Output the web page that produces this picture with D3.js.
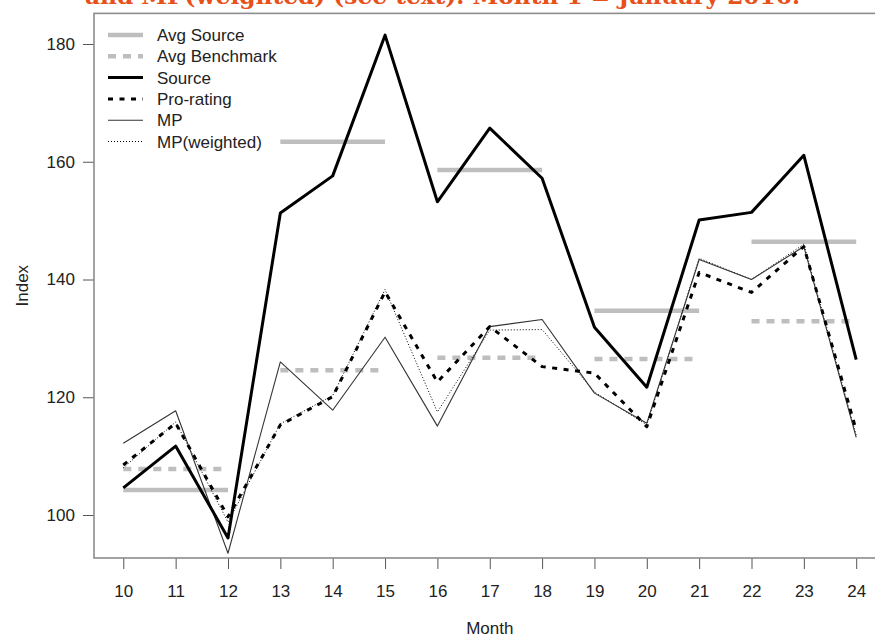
<!DOCTYPE html>
<html>
<head>
<meta charset="utf-8">
<script src="https://cdn.jsdelivr.net/npm/d3@7"></script>
<style>
  html, body { margin: 0; padding: 0; background: #fff; }
  svg { display: block; }
</style>
</head>
<body>
<svg id="chart" width="875" height="639"></svg>
<script>
// ---------- data ----------
const months = [10, 11, 12, 13, 14, 15, 16, 17, 18, 19, 20, 21, 22, 23, 24];
const source    = [104.6, 111.7, 96.1, 151.3, 157.6, 181.5, 153.2, 165.7, 157.2, 131.9, 121.7, 150.1, 151.4, 161.1, 126.4];
const proRating = [108.5, 115.6, 99.7, 115.3, 120.1, 137.9, 122.6, 132.0, 125.2, 124.1, 115.0, 141.2, 137.8, 145.6, 114.4];
const mp        = [112.2, 117.7, 93.5, 126.0, 117.8, 130.2, 115.1, 132.0, 133.2, 120.7, 115.6, 143.4, 140.0, 145.6, 113.2];
const mpWeighted= [108.0, 115.8, 98.8, 115.5, 120.3, 138.3, 117.5, 131.4, 131.5, 120.9, 115.3, 143.6, 140.0, 146.0, 113.6];
// quarterly averages: [startMonth, endMonth, value]
const avgSourceStart = [10, 13, 16, 19, 22];
const avgSourceEnd   = [12, 15, 18, 21, 24];
const avgSource      = [104.25, 163.4, 158.6, 134.7, 146.4];
const avgBenchmark   = [107.8, 124.6, 126.7, 126.5, 132.9];
const yTicks = [100, 120, 140, 160, 180];
const legendLabels = ["Avg Source", "Avg Benchmark", "Source", "Pro-rating", "MP", "MP(weighted)"];
const titleText = "and MP(weighted) (see text). Month 1 = January 2016.";

// ---------- styles ----------
const styles = {
  "Avg Source":    {stroke: "#bebebe", width: 4.5, dash: null},
  "Avg Benchmark": {stroke: "#bebebe", width: 4.5, dash: "8,7"},
  "Source":        {stroke: "#000", width: 3, dash: null},
  "Pro-rating":    {stroke: "#000", width: 3, dash: "5,6.5"},
  "MP":            {stroke: "#333", width: 1.1, dash: null},
  "MP(weighted)":  {stroke: "#000", width: 1, dash: "1,2"}
};

const svg = d3.select("#chart");
const font = "'Liberation Sans', Arial, sans-serif";

const x = d3.scaleLinear().domain([10, 24]).range([123.3, 856.2]);
const y = d3.scaleLinear().domain([100, 180]).range([515, 44]);
const plotLeft = x(9.44), plotRight = x(24.56);
const plotTop = y(185.2), plotBottom = y(92.7);

// title (clipped at top, as in the reference)
svg.append("text")
  .attr("x", 85).attr("y", 4)
  .attr("font-family", "'DejaVu Serif', 'Liberation Serif', serif")
  .attr("font-weight", "bold")
  .attr("font-size", 22)
  .attr("fill", "#e8501a")
  .attr("textLength", 715)
  .attr("lengthAdjust", "spacingAndGlyphs")
  .text(titleText);

// axes
const xAxis = d3.axisBottom(x).tickValues(months).tickSize(11).tickPadding(16).tickFormat(d3.format("d"));
const gx = svg.append("g").attr("transform", `translate(0,${plotBottom})`).call(xAxis);
gx.select(".domain").remove();
gx.selectAll("line").attr("stroke", "#555");
gx.selectAll("text").attr("font-family", font).attr("font-size", 17).attr("fill", "#222");

const yAxis = d3.axisLeft(y).tickValues(yTicks).tickSize(11).tickPadding(8);
const gy = svg.append("g").attr("transform", `translate(${plotLeft},0)`).call(yAxis);
gy.select(".domain").remove();
gy.selectAll("line").attr("stroke", "#555");
gy.selectAll("text").attr("font-family", font).attr("font-size", 17).attr("fill", "#222");

// axis titles
svg.append("text").attr("x", x(17)).attr("y", 634).attr("text-anchor", "middle")
  .attr("font-family", font).attr("font-size", 17).attr("fill", "#222").text("Month");
svg.append("text").attr("transform", `translate(28,${(plotTop + plotBottom) / 2}) rotate(-90)`)
  .attr("text-anchor", "middle").attr("font-family", font).attr("font-size", 17).attr("fill", "#222").text("Index");

// plot clip
svg.append("clipPath").attr("id", "plotclip").append("rect")
  .attr("x", plotLeft).attr("y", plotTop).attr("width", plotRight - plotLeft).attr("height", plotBottom - plotTop);
const plot = svg.append("g").attr("clip-path", "url(#plotclip)");

function styleLine(sel, name) {
  const s = styles[name];
  sel.attr("fill", "none").attr("stroke", s.stroke).attr("stroke-width", s.width)
    .attr("stroke-linejoin", "round");
  if (s.dash) sel.attr("stroke-dasharray", s.dash);
  return sel;
}

// average segments
plot.selectAll("line.avgb").data(avgBenchmark).join("line").attr("class", "avgb")
  .attr("x1", (d, i) => x(avgSourceStart[i])).attr("x2", (d, i) => x(avgSourceEnd[i]))
  .attr("y1", d => y(d)).attr("y2", d => y(d))
  .call(styleLine, "Avg Benchmark");
plot.selectAll("line.avgs").data(avgSource).join("line").attr("class", "avgs")
  .attr("x1", (d, i) => x(avgSourceStart[i])).attr("x2", (d, i) => x(avgSourceEnd[i]))
  .attr("y1", d => y(d)).attr("y2", d => y(d))
  .call(styleLine, "Avg Source");

const line = d3.line().x((d, i) => x(months[i])).y(d => y(d));
const series = [
  ["MP(weighted)", mpWeighted],
  ["MP", mp],
  ["Pro-rating", proRating],
  ["Source", source]
];
series.forEach(([name, vals]) => {
  plot.append("path").datum(vals).attr("d", line).call(styleLine, name);
});

// frame
svg.append("rect").attr("x", plotLeft).attr("y", plotTop)
  .attr("width", plotRight - plotLeft).attr("height", plotBottom - plotTop)
  .attr("fill", "none").attr("stroke", "#8c8c8c").attr("stroke-width", 1.6);

// legend
const legY0 = 35, legDy = 21.3;
const leg = svg.append("g");
legendLabels.forEach((name, i) => {
  const yy = legY0 + i * legDy;
  leg.append("line").attr("x1", 108).attr("x2", 143).attr("y1", yy).attr("y2", yy).call(styleLine, name);
  leg.append("text").attr("x", 157).attr("y", yy + 6)
    .attr("font-family", font).attr("font-size", 17).attr("fill", "#222").text(name);
});
</script>
</body>
</html>
